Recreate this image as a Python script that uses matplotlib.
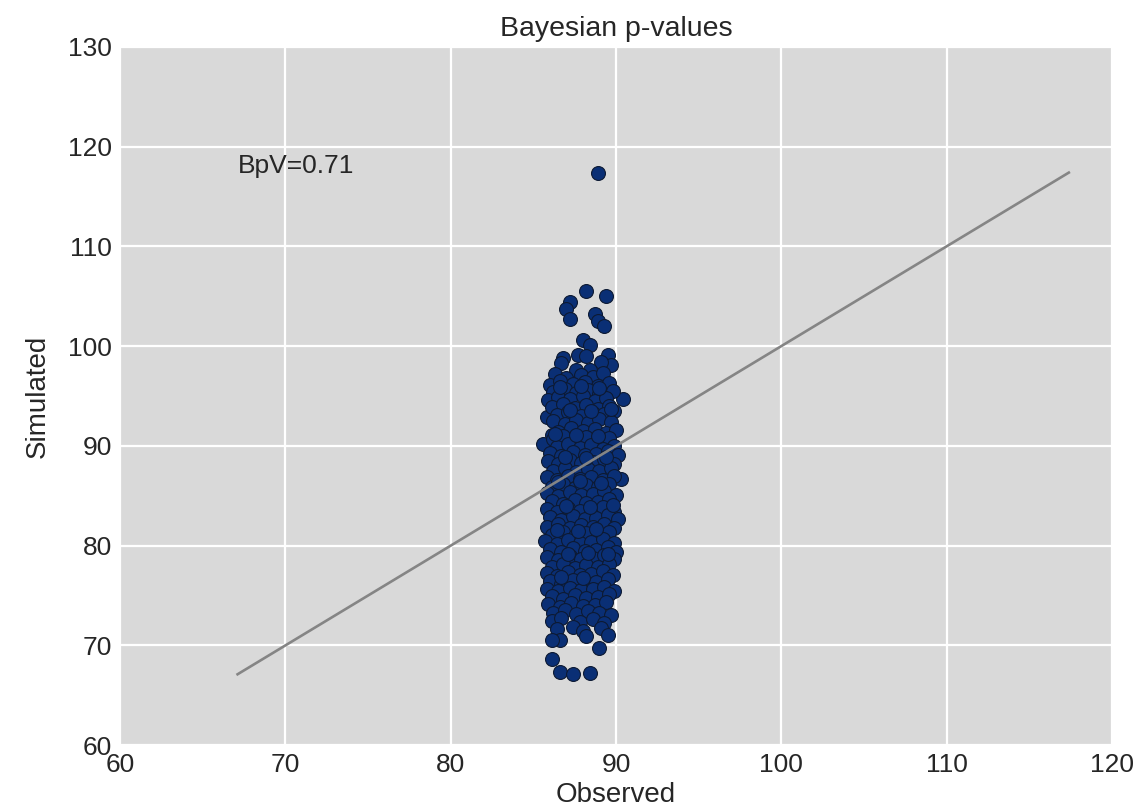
import numpy as np
import matplotlib.pyplot as plt

plt.rcParams['font.family'] = ['Liberation Sans', 'DejaVu Sans']

# observed vs simulated discrepancy
observed = [
    88.9,
    88.2, 89.4, 87.2, 87.0, 87.2, 88.7, 88.9, 89.25, 88.0, 88.4,
    87.7, 88.2, 86.8, 86.7, 89.5, 89.7, 89.1, 87.6, 88.4, 86.1,
    90.4, 85.8, 86.1, 85.6, 90.3,
    86.3, 87.0, 87.9, 88.6, 89.2,
    86.0, 86.6, 87.4, 88.1, 88.9, 89.6,
    86.2, 86.9, 87.6, 88.3, 89.0, 89.8,
    85.9, 86.5, 87.2, 88.0, 88.7, 89.4,
    86.1, 86.8, 87.5, 88.2, 88.9, 89.6,
    86.4, 87.1, 87.9, 88.6, 89.3, 89.9,
    86.2, 86.9, 87.6, 88.3, 89.0, 89.7,
    86.5, 87.3, 88.0, 88.7, 89.4, 90.0,
    86.2, 86.8, 87.5, 88.2, 88.9, 89.6,
    86.4, 87.1, 87.8, 88.5, 89.2, 89.9,
    86.0, 86.7, 87.4, 88.1, 88.8, 89.5, 90.1,
    85.9, 86.5, 87.2, 87.9, 88.6, 89.3, 89.9,
    86.2, 86.9, 87.6, 88.3, 89.0, 89.7,
    85.8, 86.4, 87.1, 87.8, 88.5, 89.2, 89.9,
    86.1, 86.8, 87.5, 88.2, 88.9, 89.6,
    85.8, 86.5, 87.2, 87.9, 88.6, 89.3, 90.0,
    86.1, 86.8, 87.5, 88.2, 88.9, 89.6,
    85.8, 86.4, 87.1, 87.8, 88.5, 89.2, 89.9,
    86.0, 86.7, 87.4, 88.1, 88.8, 89.5, 90.1,
    85.8, 86.5, 87.2, 87.9, 88.6, 89.3, 89.9,
    86.1, 86.8, 87.5, 88.2, 88.9, 89.6,
    85.7, 86.4, 87.1, 87.8, 88.5, 89.2, 89.9,
    86.0, 86.7, 87.4, 88.1, 88.8, 89.5, 90.0,
    85.8, 86.5, 87.2, 87.9, 88.6, 89.3, 89.9,
    86.1, 86.8, 87.5, 88.2, 88.9, 89.6,
    85.8, 86.4, 87.1, 87.8, 88.5, 89.2, 89.8,
    86.0, 86.7, 87.4, 88.1, 88.8, 89.5,
    85.8, 86.5, 87.2, 87.9, 88.6, 89.3, 89.9,
    86.1, 86.8, 87.5, 88.2, 88.9, 89.6,
    85.9, 86.6, 87.3, 88.0, 88.7, 89.4,
    86.2, 86.9, 87.6, 88.3, 89.0, 89.7,
    86.1, 86.7, 87.8, 88.6, 89.3,
    86.4, 87.4, 88.0, 89.1,
    86.6, 88.2, 89.5, 86.1, 89.0, 86.1, 86.6, 87.4, 88.4,
    # extra fill between rows
    86.6, 87.9, 89.0, 87.2, 88.5, 89.7, 86.3, 87.6, 88.9,
    86.9, 88.2, 89.4, 86.5, 87.8, 89.1, 87.0, 88.4, 89.8,
    86.4, 87.7, 88.8, 87.1, 88.3, 89.5, 86.7, 88.0,
]
simulated = [
    117.4,
    105.5, 105.0, 104.4, 103.7, 102.7, 103.2, 102.5, 102.0, 100.6, 100.1,
    99.1, 99.0, 98.8, 98.3, 99.1, 98.1, 98.4, 97.6, 97.6, 96.1,
    94.7, 92.9, 91.1, 90.2, 86.7,
    97.2, 96.8, 97.1, 96.9, 97.3,
    96.1, 96.5, 96.2, 96.4, 96.0, 96.3,
    95.4, 95.7, 95.3, 95.6, 95.2, 95.5,
    94.6, 94.9, 94.7, 95.0, 94.5, 94.8,
    93.9, 94.2, 93.8, 94.1, 93.7, 94.0,
    93.1, 93.4, 93.0, 93.3, 93.2, 93.5,
    92.5, 92.2, 92.6, 92.3, 92.7, 92.4,
    91.4, 91.8, 91.5, 91.7, 91.3, 91.6,
    90.7, 91.0, 90.6, 90.9, 90.5, 90.8,
    89.9, 90.2, 89.8, 90.1, 89.7, 90.0,
    89.3, 89.0, 89.4, 89.1, 89.2, 89.5, 89.1,
    88.5, 88.2, 88.6, 88.3, 88.4, 88.7, 88.2,
    87.5, 87.8, 87.4, 87.7, 87.5, 87.8,
    86.9, 86.6, 87.0, 86.7, 86.9, 86.6, 87.0,
    85.9, 86.2, 85.8, 86.1, 85.9, 86.2,
    85.3, 85.0, 85.4, 85.1, 85.2, 85.5, 85.1,
    84.5, 84.2, 84.6, 84.3, 84.4, 84.7,
    83.7, 83.4, 83.8, 83.5, 83.6, 83.9, 83.4,
    82.9, 82.6, 83.0, 82.7, 82.8, 83.1, 82.7,
    81.9, 82.2, 81.8, 82.1, 81.9, 82.2, 81.8,
    81.1, 81.4, 81.0, 81.3, 81.1, 81.4,
    80.5, 80.2, 80.6, 80.3, 80.4, 80.7, 80.3,
    79.7, 79.4, 79.8, 79.5, 79.6, 79.9, 79.4,
    78.9, 78.6, 79.0, 78.7, 78.8, 79.1, 78.7,
    77.9, 78.2, 77.8, 78.1, 77.9, 78.2,
    77.3, 77.0, 77.4, 77.1, 77.2, 77.5, 77.1,
    76.5, 76.2, 76.6, 76.3, 76.4, 76.7,
    75.7, 75.4, 75.8, 75.5, 75.6, 75.9, 75.4,
    74.9, 74.6, 75.0, 74.7, 74.8, 75.1,
    74.1, 73.8, 74.2, 73.9, 74.0, 74.3,
    73.2, 73.5, 73.1, 73.4, 73.2, 73.0,
    72.4, 72.7, 72.3, 72.6, 72.2,
    71.6, 71.8, 71.4, 71.7,
    70.5, 70.9, 71.0, 70.5, 69.7, 68.6, 67.3, 67.1, 67.2,
    95.9, 96.0, 95.8, 93.6, 93.5, 93.7, 91.2, 91.1, 91.0,
    88.9, 88.8, 88.9, 86.4, 86.5, 86.3, 84.0, 83.9, 84.1,
    81.6, 81.5, 81.7, 79.2, 79.3, 79.2, 76.9, 76.8,
]
bpv = 0.71

x_ticks = [60, 70, 80, 90, 100, 110, 120]
y_ticks = [60, 70, 80, 90, 100, 110, 120, 130]

fig = plt.figure(figsize=(11.45, 8.09), dpi=100)
ax = fig.add_axes([0.105, 0.079, 0.866, 0.863])
ax.set_facecolor('#d9d9d9')
for s in ax.spines.values():
    s.set_visible(False)
ax.grid(True, color='white', linewidth=1.6)
ax.set_axisbelow(True)

ax.scatter(observed, simulated, s=100, c='#0a2f75', edgecolors='#0d1a33',
           linewidths=0.8, zorder=3)

lo = min(min(observed), min(simulated))
hi = max(max(observed), max(simulated))
ax.plot([lo, hi], [lo, hi], color='#858585', linewidth=1.9, zorder=4)
ax.text(lo, hi, 'BpV=%.2f' % bpv, fontsize=19, color='#262626', zorder=5)

ax.set_xlim(60, 120)
ax.set_ylim(60, 130)
ax.set_xticks(x_ticks)
ax.set_yticks(y_ticks)
ax.tick_params(length=0, labelsize=19, colors='#262626', pad=6)
ax.set_xlabel('Observed', fontsize=20, color='#262626', labelpad=3)
ax.set_ylabel('Simulated', fontsize=20, color='#262626', labelpad=12)
ax.set_title('Bayesian p-values', fontsize=20.5, color='#262626', pad=8)

fig.savefig('out.png', dpi=100)
